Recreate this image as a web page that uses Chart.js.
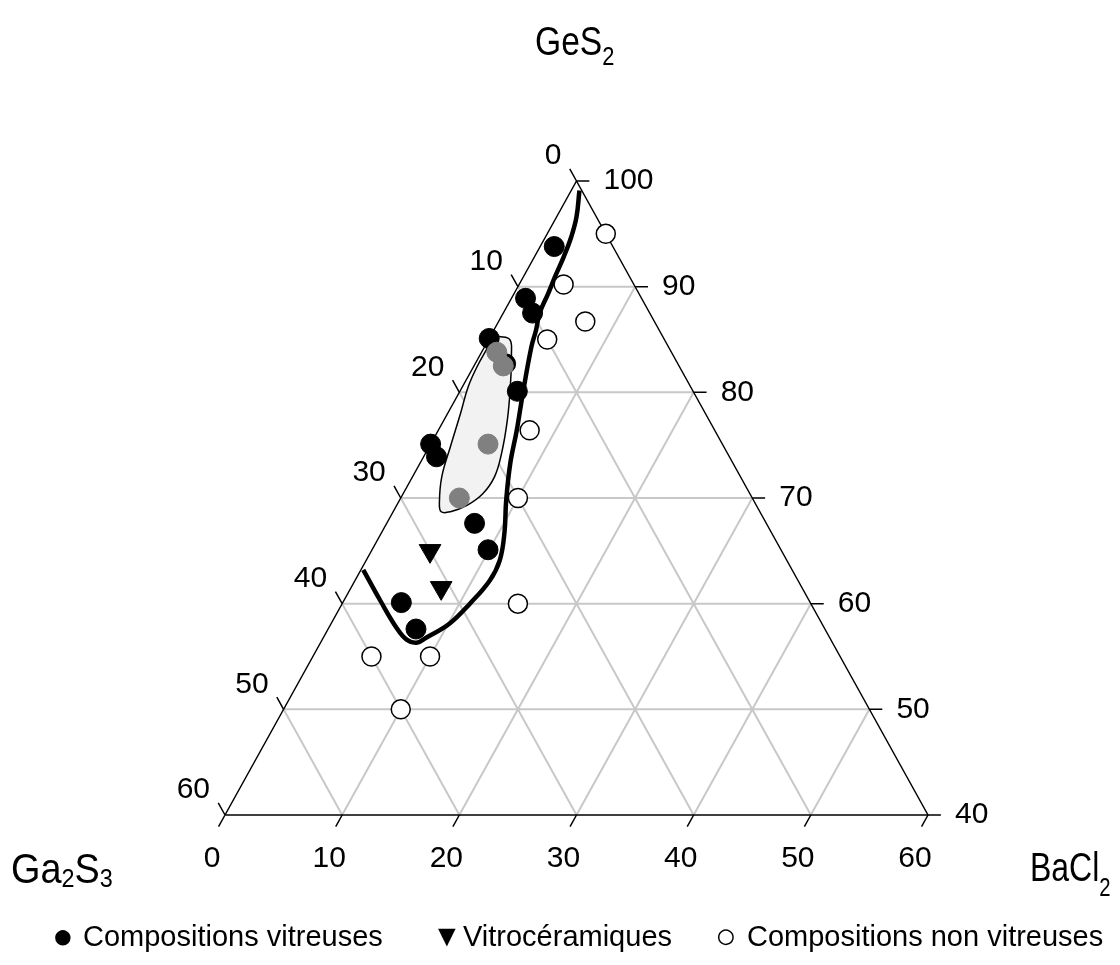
<!DOCTYPE html>
<html>
<head>
<meta charset="utf-8">
<script src="https://cdn.jsdelivr.net/npm/chart.js@4.4.0/dist/chart.umd.min.js"></script>
<style>
  body { margin: 0; background: #fff; }
  canvas { display: block; }
</style>
</head>
<body>
<canvas id="ternary" width="1120" height="965"></canvas>
<script>
// compositions in mol %: BaCl2 and GeS2, Ga2S3 is the rest
const glassBaCl2 = [1.2, 1.2, 2.5, 0, 2.6, 4.9, 0, 1.1, 7.5, 9.9, 5.0, 7.5];
const glassGeS2 = [93.8, 88.9, 87.5, 85.1, 82.7, 80.1, 75.1, 73.9, 67.6, 65.1, 60.1, 57.6];

const ceramBaCl2 = [5.0, 7.7];
const ceramGeS2 = [65.0, 61.5];

const nonGlassBaCl2 = [5.0, 3.8, 7.4, 5.0, 7.8, 10, 15, 5, 10, 10];
const nonGlassGeS2 = [95.0, 90.2, 86.7, 85.0, 76.4, 70, 60, 55, 55, 50];

// grey points inside the shaded zone
const greyBaCl2 = [1.3, 2.5, 4.9, 5.0];
const greyGeS2 = [83.8, 82.5, 75.1, 70.0];

// limit of the glass forming region (thick line)
const limitBaCl2 = [0.7, 1.7, 2.2, 2.5, 2.7, 2.9, 3.1, 3.6, 4.0, 5.4, 6.7, 7.7, 9.1, 10.5, 11.4, 11.5, 10.9, 10.1, 8.8, 8.2, 7.2, 5.8, 3.1, 0.2];
const limitGeS2 = [99.1, 96.6, 94.7, 92.8, 90.9, 89.4, 87.5, 85.9, 84.3, 80.1, 76.4, 73.3, 69.8, 66.7, 64.1, 62.2, 60.0, 58.1, 56.8, 56.3, 56.6, 57.7, 60.3, 63.2];

// shaded zone (closed)
const zoneBaCl2 = [0.7, 1.8, 2.6, 4.1, 5.4, 6.5, 7.0, 6.8, 6.0, 4.9, 4.1, 3.5, 2.5, 1.8, 1.1, 0.5, 0.3, 0.3, 0.3, 0.7];
const zoneGeS2 = [85.3, 85.0, 83.7, 80.5, 77.4, 74.2, 72.0, 70.4, 69.3, 68.7, 68.7, 69.6, 72.0, 74.9, 78.0, 80.5, 82.4, 84.2, 85.1, 85.3];

// axes
const bottomTicks = [0, 10, 20, 30, 40, 50, 60];      // BaCl2
const leftTicks = [0, 10, 20, 30, 40, 50, 60];        // Ga2S3
const rightTicks = [100, 90, 80, 70, 60, 50, 40];     // GeS2
const gridSteps = [10, 20, 30, 40, 50];

const legendLabels = ['Compositions vitreuses', 'Vitrocéramiques', 'Compositions non vitreuses'];

// ternary -> cartesian (x along the base, y = GeS2)
const toXY = (b, g) => ({ x: b + (g - 40) / 2, y: g });
const pts = (bs, gs) => bs.map((b, i) => toXY(b, gs[i]));
const joinSegments = segs => segs.flatMap((s, i) => i ? [{ x: NaN, y: NaN }, ...s] : s);

// grid lines
const gridSegs = [];
gridSteps.forEach(s => {
    const g = 40 + s;
    gridSegs.push([toXY(0, g), toXY(100 - g, g)]);          // GeS2 constant
    gridSegs.push([toXY(s, 40), toXY(s, 100 - s)]);         // BaCl2 constant
    gridSegs.push([toXY(60 - s, 40), toXY(0, 100 - s)]);    // Ga2S3 constant
});

const edgeSegs = [
    [toXY(0, 40), toXY(0, 100)],
    [toXY(60, 40), toXY(0, 100)],
    [toXY(0, 40), toXY(60, 40)]
];

// tick marks
const tickSegs = [];
leftTicks.forEach(a => tickSegs.push([toXY(0, 100 - a), toXY(-1.15, 100 - a + 1.15)]));
rightTicks.forEach(g => tickSegs.push([toXY(100 - g, g), toXY(100 - g + 1.1, g)]));
bottomTicks.forEach(b => tickSegs.push([toXY(b, 40), toXY(b, 38.9)]));

const lineSet = (data, color, width, order) => ({
    data, showLine: true, borderColor: color, borderWidth: width,
    pointRadius: 0, tension: 0, fill: false, order, clip: false
});

// text: tick labels, component names and legend
const labelsPlugin = {
    id: 'ternaryLabels',
    afterDraw(chart) {
        const { ctx, scales: { x, y } } = chart;
        const px = (b, g) => {
            const p = toXY(b, g);
            return [x.getPixelForValue(p.x), y.getPixelForValue(p.y)];
        };
        const font = size => size + 'px "Liberation Sans", Arial, sans-serif';
        ctx.save();
        ctx.fillStyle = '#000';
        ctx.font = font(30);
        ctx.textBaseline = 'middle';

        ctx.textAlign = 'right';
        leftTicks.forEach(a => {
            const [X, Y] = px(0, 100 - a);
            ctx.fillText(String(a), X - 15, Y - 25);
        });
        ctx.textAlign = 'left';
        rightTicks.forEach(g => {
            const [X, Y] = px(100 - g, g);
            ctx.fillText(String(g), X + 27, Y);
        });
        ctx.textAlign = 'center';
        bottomTicks.forEach(b => {
            const [X, Y] = px(b, 40);
            ctx.fillText(String(b), X - 13, Y + 44);
        });

        // component names with subscripts (the originals are a bit condensed)
        ctx.textAlign = 'left';
        ctx.textBaseline = 'alphabetic';
        const chem = (parts, x0, y0, sx) => {
            ctx.save();
            ctx.translate(x0, y0);
            ctx.scale(sx, 1);
            let cx = 0;
            parts.forEach(([t, size, dy]) => {
                ctx.font = font(size);
                ctx.fillText(t, cx, dy);
                cx += ctx.measureText(t).width;
            });
            ctx.restore();
        };
        chem([['GeS', 40, 0], ['2', 26, 10]], 535, 55, 0.84);
        chem([['Ga', 42, 0], ['2', 26, 4], ['S', 42, 0], ['3', 26, 4]], 11, 883, 0.9);
        chem([['BaCl', 41, 0], ['2', 26, 15]], 1030, 881, 0.78);

        // legend
        ctx.textBaseline = 'middle';
        const legendY = 938;
        [[52, '\u25CF', 36, 83], [432, '\u25BC', 30, 463], [715, '\u25CB', 36, 747]].forEach(([sx, sym, size, tx], i) => {
            ctx.font = font(size);
            ctx.fillText(sym, sx, legendY);
            ctx.font = font(29);
            ctx.fillText(legendLabels[i], tx, legendY);
        });
        ctx.restore();
    }
};

new Chart(document.getElementById('ternary'), {
    type: 'scatter',
    data: {
        datasets: [
            lineSet(joinSegments(gridSegs), '#c8c8c8', 2, 20),
            lineSet(joinSegments(edgeSegs), '#000', 1.5, 19),
            lineSet(joinSegments(tickSegs), '#000', 1.5, 19),
            {
                data: pts(zoneBaCl2, zoneGeS2), showLine: true,
                borderColor: '#000', borderWidth: 1.5, backgroundColor: '#f2f2f2',
                fill: 'shape', tension: 0.4, pointRadius: 0, order: 15, clip: false
            },
            {
                data: pts(limitBaCl2, limitGeS2), showLine: true,
                borderColor: '#000', borderWidth: 4.5, tension: 0.4,
                pointRadius: 0, fill: false, order: 14, clip: false
            },
            {
                data: pts(glassBaCl2, glassGeS2), pointStyle: 'circle', pointRadius: 10,
                backgroundColor: '#000', borderColor: '#000', borderWidth: 1, order: 5, clip: false
            },
            {
                data: pts(ceramBaCl2, ceramGeS2), pointStyle: 'triangle', rotation: 180, pointRadius: 12.5,
                backgroundColor: '#000', borderColor: '#000', borderWidth: 1, order: 5, clip: false
            },
            {
                data: pts(nonGlassBaCl2, nonGlassGeS2), pointStyle: 'circle', pointRadius: 9.5,
                backgroundColor: '#fff', borderColor: '#000', borderWidth: 1.5, order: 5, clip: false
            },
            {
                data: pts(greyBaCl2, greyGeS2), pointStyle: 'circle', pointRadius: 10,
                backgroundColor: '#808080', borderColor: '#808080', borderWidth: 1, order: 1, clip: false
            }
        ]
    },
    options: {
        responsive: false,
        animation: false,
        events: [],
        layout: { padding: { left: 225, right: 192, top: 181, bottom: 150 } },
        scales: {
            x: { type: 'linear', min: 0, max: 60, display: false },
            y: { type: 'linear', min: 40, max: 100, display: false }
        },
        plugins: {
            legend: { display: false },
            tooltip: { enabled: false }
        }
    },
    plugins: [labelsPlugin]
});
</script>
</body>
</html>
